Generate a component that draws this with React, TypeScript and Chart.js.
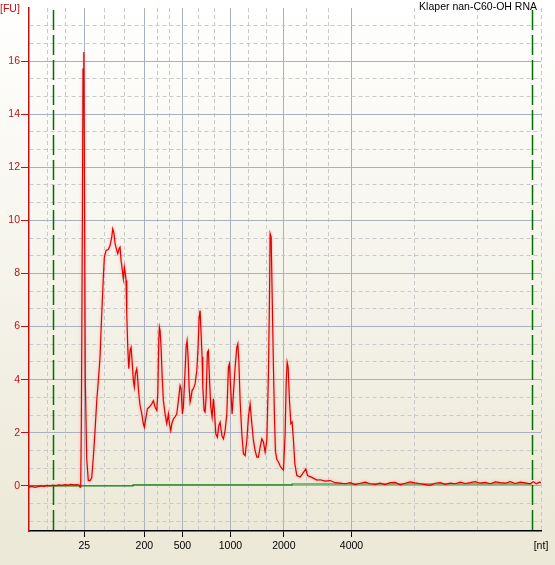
import React, { useEffect, useRef } from 'react';
import { Chart, registerables } from 'chart.js';

Chart.register(...registerables);

// ---- text ----
const TITLE = 'Klaper nan-C60-OH RNA';
const Y_UNIT = '[FU]';
const X_UNIT = '[nt]';

// ---- axes (x = migration time in s, labelled with ladder sizes) ----
const xMin = 17.0;
const xMax = 68.17;
const yMin = -1.7;
const yMax = 18;
const ladderLabels = ['25', '200', '500', '1000', '2000', '4000'];
const ladderTimes = [22.53, 28.53, 32.33, 37.13, 42.47, 49.23];
const markerTimes = [19.43, 67.23]; // lower / upper marker

// ---- electropherogram [time s, FU] ----
const trace: [number, number][] = [
  [17.0, -0.05], [17.3, -0.02], [17.6, -0.06], [17.9, -0.03], [18.2, 0.0], [18.5, -0.02],
  [18.8, 0.02], [19.1, 0.0], [19.4, 0.03], [19.7, 0.01], [20.0, 0.04], [20.3, 0.02],
  [20.6, 0.05], [20.9, 0.03], [21.2, 0.06], [21.5, 0.04], [21.8, 0.05], [22.0, 0.03],
  [22.1, -0.05], [22.17, 0.05], [22.23, 2.33], [22.33, 9.6], [22.4, 15.7], [22.48, 16.34],
  [22.56, 10.0], [22.63, 3.9], [22.77, 1.0], [22.93, 0.2], [23.1, 0.2], [23.27, 0.3],
  [23.43, 1.08], [23.6, 2.08], [23.77, 3.2], [23.93, 3.97], [24.1, 4.85], [24.2, 5.85],
  [24.3, 6.73], [24.43, 7.86], [24.53, 8.61], [24.7, 8.87], [24.93, 8.9], [25.1, 9.05],
  [25.27, 9.37], [25.37, 9.68], [25.5, 9.5], [25.6, 9.12], [25.77, 8.87], [25.87, 8.75],
  [26.0, 8.93], [26.1, 8.99], [26.2, 8.49], [26.33, 8.11], [26.43, 7.8], [26.53, 8.24],
  [26.63, 7.99], [26.7, 7.74], [26.77, 6.48], [26.87, 5.22], [26.97, 4.41], [27.1, 5.1],
  [27.2, 5.22], [27.3, 4.72], [27.43, 3.97], [27.53, 3.72], [27.63, 4.22], [27.77, 4.41],
  [27.87, 4.0], [27.97, 3.47], [28.1, 3.03], [28.27, 2.71], [28.43, 2.34], [28.53, 2.21],
  [28.7, 2.59], [28.83, 2.9], [29.03, 2.97], [29.27, 3.09], [29.43, 3.21], [29.6, 2.97],
  [29.77, 2.84], [29.87, 3.47], [29.97, 5.47], [30.03, 5.98], [30.1, 5.85], [30.2, 5.2],
  [30.3, 4.2], [30.43, 3.21], [30.6, 2.71], [30.77, 2.34], [30.93, 2.71], [31.03, 2.34],
  [31.17, 2.08], [31.27, 2.34], [31.43, 2.52], [31.6, 2.6], [31.77, 2.71], [31.93, 3.21],
  [32.1, 3.78], [32.2, 3.66], [32.33, 2.71], [32.43, 2.97], [32.6, 4.34], [32.7, 5.22],
  [32.8, 5.47], [32.9, 4.85], [33.0, 3.72], [33.1, 3.15], [33.2, 3.34], [33.3, 3.59],
  [33.43, 3.66], [33.6, 3.84], [33.77, 4.34], [33.9, 5.22], [34.0, 6.35], [34.1, 6.6],
  [34.2, 5.73], [34.3, 4.85], [34.37, 3.72], [34.5, 2.84], [34.6, 2.78], [34.7, 3.34],
  [34.83, 5.03], [34.93, 5.1], [35.03, 4.09], [35.17, 2.96], [35.3, 2.59], [35.43, 3.28],
  [35.53, 2.84], [35.67, 1.96], [35.83, 1.83], [35.97, 2.27], [36.1, 2.4], [36.27, 1.9],
  [36.43, 1.77], [36.6, 2.08], [36.77, 2.71], [36.93, 4.47], [37.03, 4.6], [37.17, 3.59],
  [37.3, 2.71], [37.43, 3.47], [37.6, 4.47], [37.77, 5.22], [37.87, 5.35], [37.97, 4.72],
  [38.1, 3.21], [38.27, 1.96], [38.43, 1.21], [38.6, 1.14], [38.77, 1.71], [38.93, 2.59],
  [39.1, 3.09], [39.27, 2.34], [39.43, 1.71], [39.6, 1.33], [39.77, 1.08], [39.93, 1.08],
  [40.1, 1.46], [40.27, 1.77], [40.43, 1.65], [40.6, 1.27], [40.77, 1.71], [40.93, 4.22],
  [41.03, 6.98], [41.1, 9.5], [41.2, 9.37], [41.3, 7.23], [41.43, 4.47], [41.53, 2.59],
  [41.63, 1.3], [41.77, 1.0], [41.93, 0.9], [42.1, 0.75], [42.27, 0.65], [42.43, 0.6],
  [42.6, 1.96], [42.7, 3.84], [42.8, 4.66], [42.9, 4.47], [43.03, 3.21], [43.17, 2.34],
  [43.3, 2.4], [43.43, 1.71], [43.57, 0.83], [43.77, 0.39], [44.1, 0.33], [44.43, 0.51],
  [44.67, 0.64], [44.83, 0.39], [45.27, 0.32], [45.77, 0.22], [46.1, 0.23], [46.6, 0.18],
  [47.1, 0.2], [47.6, 0.12], [48.1, 0.1], [48.6, 0.08], [49.1, 0.12], [49.6, 0.05],
  [50.1, 0.1], [50.6, 0.14], [51.1, 0.08], [51.6, 0.06], [52.1, 0.1], [52.6, 0.05],
  [53.1, 0.12], [53.6, 0.13], [54.1, 0.04], [54.6, 0.1], [55.1, 0.15], [55.6, 0.11],
  [56.1, 0.08], [56.6, 0.05], [57.1, 0.02], [57.6, 0.1], [58.1, 0.12], [58.6, 0.06],
  [59.1, 0.1], [59.6, 0.08], [60.1, 0.14], [60.6, 0.09], [61.1, 0.12], [61.6, 0.16],
  [62.1, 0.1], [62.6, 0.13], [63.1, 0.08], [63.6, 0.15], [64.1, 0.12], [64.6, 0.1],
  [65.1, 0.16], [65.6, 0.09], [66.1, 0.14], [66.6, 0.11], [67.1, 0.08], [67.4, 0.16],
  [67.7, 0.08], [68.0, 0.14], [68.17, 0.12],
];

// ---- baseline (green) ----
const baselineTime = [17.0, 27.4, 27.4, 43.3, 43.3, 67.23];
const baselineFU = [0.0, 0.0, 0.04, 0.04, 0.07, 0.07];

const FONT = 'Liberation Sans, Arial, sans-serif';

type Tk = { value: number; solid: boolean; lbl: string; hideGrid?: boolean; mark?: boolean };

function xTicks(): Tk[] {
  const bounds = [xMin, ...ladderTimes, xMax];
  const out: Tk[] = [];
  for (let i = 0; i < bounds.length - 1; i++) {
    const a = bounds[i];
    const b = bounds[i + 1];
    out.push({ value: a, solid: i > 0, lbl: i > 0 ? ladderLabels[i - 1] : '', hideGrid: i === 0, mark: i > 0 });
    out.push({ value: a + (b - a) / 3, solid: false, lbl: '' });
    out.push({ value: a + (2 * (b - a)) / 3, solid: false, lbl: '' });
  }
  out.push({ value: xMax, solid: false, lbl: X_UNIT });
  return out;
}

function yTicks(): Tk[] {
  const out: Tk[] = [];
  for (let k = Math.ceil(yMin * 1.5); k <= Math.floor(yMax * 1.5); k++) {
    const solid = k % 3 === 0;
    const v = solid ? Math.round((k * 2) / 3) : (k * 2) / 3;
    const labeled = solid && v >= 0 && v < yMax;
    out.push({ value: v, solid, lbl: labeled ? String(v) : '', hideGrid: v >= yMax, mark: labeled });
  }
  return out;
}

const gridColor = (c: any) => {
  const t = c.tick as Tk | undefined;
  if (!t || t.hideGrid) return 'rgba(0,0,0,0)';
  return t.solid ? '#A9B0BE' : '#C9C9C9';
};
const gridDash = (c: any) => {
  const t = c.tick as Tk | undefined;
  if (!t) return [];
  return t.solid ? [] : [4, 3];
};

const decoPlugin = {
  id: 'deco',
  beforeDraw(chart: any) {
    const { ctx, width, height, chartArea } = chart;
    const g = ctx.createLinearGradient(0, 0, 0, chartArea.bottom);
    g.addColorStop(0, '#FFFFFF');
    g.addColorStop(1, '#ECE9D8');
    ctx.save();
    ctx.fillStyle = g;
    ctx.fillRect(0, 0, width, height);
    ctx.restore();
  },
  beforeDatasetDraw(chart: any, args: any) {
    chart.ctx.save();
    if (args.index === 0) {
      chart.ctx.shadowColor = 'rgba(255,60,60,0.45)';
      chart.ctx.shadowBlur = 3;
    }
  },
  afterDatasetDraw(chart: any) {
    chart.ctx.restore();
  },
  afterDatasetsDraw(chart: any) {
    const { ctx, chartArea, scales } = chart;
    ctx.save();
    ctx.strokeStyle = '#007000';
    ctx.lineWidth = 1.5;
    ctx.setLineDash([20, 5]);
    markerTimes.forEach((t) => {
      const x = Math.round(scales.x.getPixelForValue(t)) + 0.5;
      ctx.beginPath();
      ctx.moveTo(x, chartArea.top + 2);
      ctx.lineTo(x, chartArea.bottom);
      ctx.stroke();
    });
    ctx.restore();
  },
  afterDraw(chart: any) {
    const { ctx } = chart;
    ctx.save();
    ctx.font = `10.5px ${FONT}`;
    ctx.textBaseline = 'middle';
    ctx.fillStyle = '#000000';
    ctx.textAlign = 'right';
    ctx.fillText(TITLE, 537, 7.5);
    ctx.fillStyle = '#C41010';
    ctx.textAlign = 'left';
    ctx.fillText(Y_UNIT, 0, 9.5);
    ctx.restore();
  },
};

export default function App() {
  const ref = useRef<HTMLCanvasElement>(null);
  useEffect(() => {
    document.body.style.margin = '0';
    const canvas = ref.current;
    if (!canvas) return;
    const chart = new Chart(canvas, {
      type: 'line',
      data: {
        datasets: [
          {
            label: 'RNA',
            data: trace.map(([x, y]) => ({ x, y })),
            borderColor: '#E00000',
            borderWidth: 1.2,
            pointRadius: 0,
            tension: 0,
            fill: false,
          },
          {
            label: 'baseline',
            data: baselineTime.map((x, i) => ({ x, y: baselineFU[i] })),
            borderColor: '#108010',
            borderWidth: 1.2,
            pointRadius: 0,
            tension: 0,
            fill: false,
          },
        ],
      },
      options: {
        animation: false,
        responsive: false,
        devicePixelRatio: 1,
        events: [],
        layout: { padding: { top: 8, right: 14, bottom: 0, left: 0 } },
        plugins: { legend: { display: false }, tooltip: { enabled: false }, title: { display: false } },
        scales: {
          x: {
            type: 'linear',
            min: xMin,
            max: xMax,
            afterBuildTicks: (s: any) => {
              s.ticks = xTicks();
            },
            afterFit: (s: any) => {
              s.height = 34;
              s.paddingLeft = 0;
              s.paddingRight = 0;
            },
            ticks: {
              autoSkip: false,
              maxRotation: 0,
              minRotation: 0,
              padding: 3,
              color: '#000000',
              font: { family: FONT, size: 10.5 },
              callback: (_v: any, i: number, ticks: any[]) => ticks[i].lbl,
            },
            grid: {
              color: gridColor,
              lineWidth: 1,
              drawTicks: true,
              tickLength: 6,
              tickWidth: 1,
              tickColor: (c: any) => (c.tick && c.tick.mark ? '#000000' : 'rgba(0,0,0,0)'),
            },
            border: { display: true, color: '#000000', width: 1.5, dash: gridDash },
          },
          y: {
            type: 'linear',
            min: yMin,
            max: yMax,
            afterBuildTicks: (s: any) => {
              s.ticks = yTicks();
            },
            afterFit: (s: any) => {
              s.width = 29;
              s.paddingTop = 0;
              s.paddingBottom = 0;
            },
            ticks: {
              autoSkip: false,
              padding: 1,
              color: '#C41010',
              font: { family: FONT, size: 10.5 },
              callback: (_v: any, i: number, ticks: any[]) => ticks[i].lbl,
            },
            grid: {
              color: gridColor,
              lineWidth: 1,
              drawTicks: true,
              tickLength: 8,
              tickWidth: 1,
              tickColor: (c: any) => (c.tick && c.tick.mark ? '#C41010' : 'rgba(0,0,0,0)'),
            },
            border: { display: true, color: '#C41010', width: 1.5, dash: gridDash },
          },
        },
      },
      plugins: [decoPlugin],
    } as any);
    return () => chart.destroy();
  }, []);
  return <canvas ref={ref} width={555} height={565} style={{ display: 'block', width: 555, height: 565 }} />;
}
